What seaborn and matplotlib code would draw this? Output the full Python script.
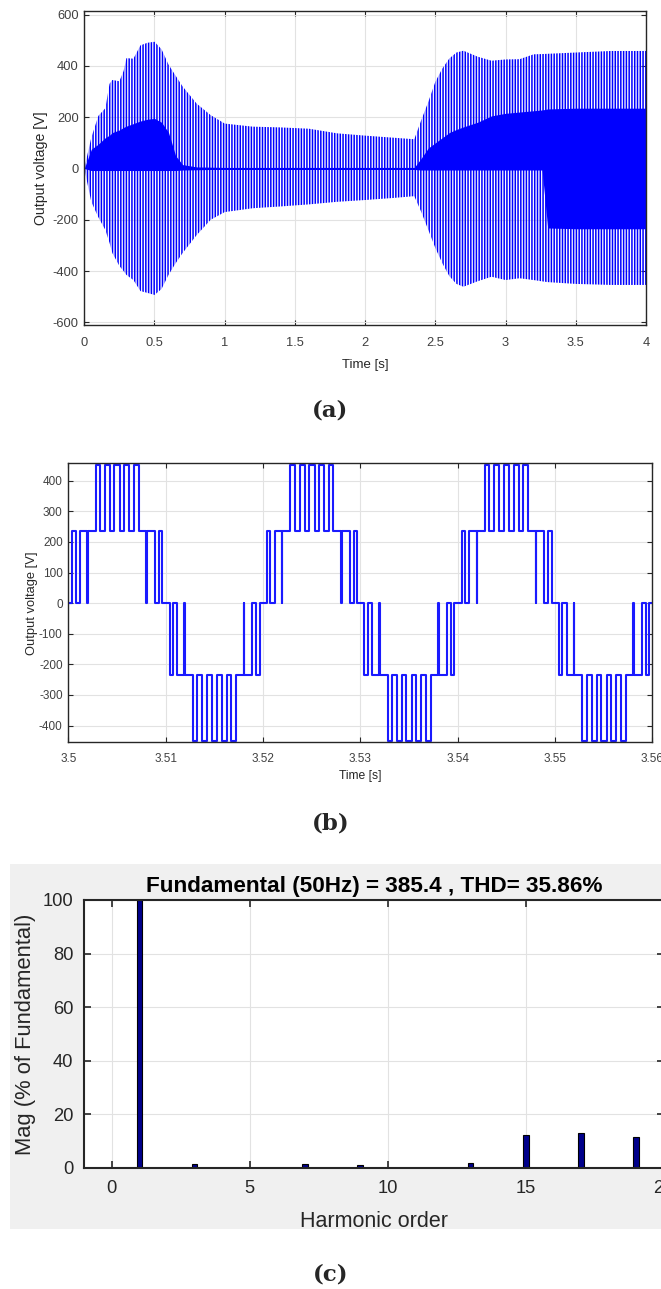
import matplotlib
matplotlib.use("Agg")
import matplotlib.pyplot as plt
from matplotlib.patches import Rectangle
import numpy as np
import seaborn as sns

# ---- (a) output voltage 0..4 s : envelopes ----
t_env = [0.0, 0.05, 0.1, 0.15, 0.18, 0.2, 0.25, 0.28, 0.3, 0.35, 0.4, 0.45, 0.5, 0.55,
         0.6, 0.65, 0.7, 0.8, 0.9, 1.0, 1.2, 1.4, 1.6, 1.8, 2.0, 2.2, 2.35, 2.4, 2.45,
         2.5, 2.55, 2.6, 2.65, 2.7, 2.8, 2.9, 3.0, 3.1, 3.2, 3.26, 3.3, 3.5, 3.75, 4.0]
upper_peak = [0, 120, 205, 235, 330, 345, 340, 380, 430, 428, 480, 490, 494, 465,
              405, 362, 320, 253, 208, 175, 163, 160, 155, 137, 128, 120, 114, 189, 260,
              338, 390, 429, 452, 459, 436, 420, 425, 426, 445, 446, 447, 452, 458, 458]
upper_dense = [0, 75, 95, 120, 130, 140, 150, 160, 165, 175, 185, 192, 195, 180,
               140, 50, 15, 6, 5, 4, 4, 4, 4, 4, 4, 4, 4, 40, 80,
               100, 120, 140, 152, 162, 180, 205, 215, 220, 225, 228, 232, 235, 235, 235]
lower_dense = [0, -8, -8, -8, -8, -8, -8, -8, -8, -8, -8, -8, -8, -8,
               -8, -8, -6, -5, -4, -4, -4, -4, -4, -4, -4, -4, -4, -6, -6,
               -6, -6, -6, -6, -6, -6, -6, -6, -6, -6, -6, -232, -235, -235, -235]
lower_peak = [0, -130, -190, -240, -290, -330, -380, -400, -415, -435, -478, -485, -493, -470,
              -415, -370, -330, -260, -200, -170, -155, -148, -140, -130, -123, -115, -108, -170, -240,
              -310, -370, -420, -450, -461, -440, -422, -435, -428, -435, -440, -443, -450, -454, -454]

# ---- (b) zoom 3.50..3.56 s : one half cycle of switching edges (ms, volts) ----
half_edges_ms = [0.0, 0.41, 0.75, 1.20, 1.93, 1.99, 2.81, 3.25, 3.77, 4.28, 4.73,
                 5.31, 5.75, 6.27, 6.75, 7.23, 8.02, 8.08, 8.90, 9.32, 9.66]
half_levels = [0, 235, 0, 235, 0, 235, 452, 235, 452, 235, 452,
               235, 452, 235, 452, 235, 0, 235, 0, 235, 0]
cycle_starts = [3.50, 3.52, 3.54]

# ---- (c) FFT spectrum ----
harmonics = [1, 3, 7, 9, 13, 15, 17, 19]
magnitudes = [100, 1.3, 1.6, 1.1, 2.0, 12.2, 13.0, 11.4]

sns.set_theme(style="ticks")
plt.rcParams['font.family'] = ['Liberation Sans', 'DejaVu Sans']
plt.rcParams['axes.unicode_minus'] = False
plt.rcParams['hatch.linewidth'] = 1.1
plt.rcParams['hatch.color'] = '#0000ff'

fig = plt.figure(figsize=(6.61, 12.89), dpi=100)
# grey panel behind the spectrum plot
fig.patches.append(Rectangle((10 / 661, 0.0466), 1.0, 0.2832, transform=fig.transFigure,
                             facecolor='#f0f0f0', edgecolor='none', zorder=-1))
ax_a = fig.add_axes([0.1275, 0.7479, 0.8498, 0.2436])
ax_b = fig.add_axes([0.1033, 0.4241, 0.8838, 0.2165])
ax_c = fig.add_axes([0.1275, 0.0939, 0.8766, 0.2079])


def matlab_box(ax, size, labelcolor):
    ax.set_facecolor('white')
    ax.grid(True, color='#e2e2e2', lw=0.8)
    ax.set_axisbelow(True)
    ax.tick_params(direction='in', top=True, right=True, length=3.5, width=0.8,
                   color='#262626', labelsize=size, labelcolor=labelcolor, pad=4)
    for s in ax.spines.values():
        s.set_visible(True)
        s.set_color('#262626')
        s.set_linewidth(1.0)


# (a)
ax_a.fill_between(t_env, lower_peak, upper_peak, facecolor='none', edgecolor='#0000ff',
                  hatch='||||||', linewidth=0)
ax_a.fill_between(t_env, lower_dense, upper_dense, color='#0000ff', linewidth=0)
ax_a.set_xlim(0, 4)
ax_a.set_ylim(-610, 614)
ax_a.set_xticks([0, 0.5, 1, 1.5, 2, 2.5, 3, 3.5, 4])
ax_a.set_xticklabels(['0', '0.5', '1', '1.5', '2', '2.5', '3', '3.5', '4'])
ax_a.set_yticks([-600, -400, -200, 0, 200, 400, 600])
matlab_box(ax_a, 9.3, '#404040')
ax_a.tick_params(axis='x', pad=9)
ax_a.set_xlabel('Time [s]', fontsize=9.5, color='#262626', labelpad=7)
ax_a.set_ylabel('Output voltage [V]', fontsize=10.2, color='#262626', labelpad=3)

# (b)
t_b, v_b = [], []
for start in cycle_starts:
    t_b += [start + ms / 1000 for ms in half_edges_ms]
    v_b += half_levels
    t_b += [start + 0.01 + ms / 1000 for ms in half_edges_ms]
    v_b += [-v for v in half_levels]
t_b.append(3.56)
v_b.append(0)
sns.lineplot(x=t_b, y=v_b, ax=ax_b, estimator=None, sort=False, drawstyle='steps-post',
             color='#1a1aff', lw=1.5)
ax_b.set_xlim(3.5, 3.56)
ax_b.set_ylim(-455, 457)
ax_b.set_xticks([3.5, 3.51, 3.52, 3.53, 3.54, 3.55, 3.56])
ax_b.set_xticklabels(['3.5', '3.51', '3.52', '3.53', '3.54', '3.55', '3.56'])
ax_b.set_yticks([-400, -300, -200, -100, 0, 100, 200, 300, 400])
matlab_box(ax_b, 8.5, '#404040')
ax_b.tick_params(axis='x', pad=8)
ax_b.set_xlabel('Time [s]', fontsize=8.7, color='#262626', labelpad=3)
ax_b.set_ylabel('Output voltage [V]', fontsize=9.3, color='#262626', labelpad=1)

# (c)
sns.barplot(x=harmonics, y=magnitudes, ax=ax_c, native_scale=True, width=0.1,
            color='#00008b', saturation=1, edgecolor='black', linewidth=0.8)
ax_c.set_xlim(-1, 20)
ax_c.set_ylim(0, 100)
ax_c.set_xticks([0, 5, 10, 15, 20])
ax_c.set_xticklabels(['0', '5', '10', '15', '20'])
ax_c.set_yticks([0, 20, 40, 60, 80, 100])
matlab_box(ax_c, 13.2, '#262626')
ax_c.tick_params(length=5, width=1.2)
ax_c.tick_params(axis='x', pad=9)
ax_c.tick_params(axis='y', pad=8)
for s in ax_c.spines.values():
    s.set_linewidth(1.5)
ax_c.set_title('Fundamental (50Hz) = 385.4 , THD= 35.86%', fontsize=16.2,
               fontweight='bold', color='black', pad=6)
ax_c.set_xlabel('Harmonic order', fontsize=15.5, color='#262626', labelpad=10)
ax_c.set_ylabel('Mag (% of Fundamental)', fontsize=15.8, color='#262626', labelpad=5)

for label, y in [('(a)', 0.6819), ('(b)', 0.3615), ('(c)', 0.0109)]:
    fig.text(0.5, y, label, ha='center', va='center', fontsize=16.5, fontweight='bold',
             family='DejaVu Serif')

fig.savefig('out.png', dpi=100)
